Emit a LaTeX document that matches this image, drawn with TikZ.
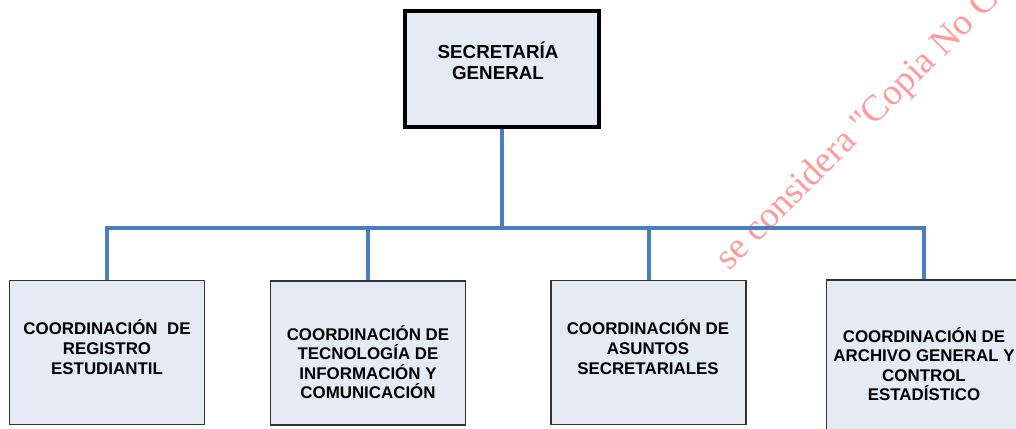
\documentclass[tikz,border=0pt]{standalone}
\usepackage{fontspec}
\setmainfont{Liberation Sans}
\newfontfamily\wmfont{Liberation Serif}
\definecolor{boxfill}{HTML}{E5EBF5}
\definecolor{connblue}{HTML}{4A7EC1}
\definecolor{wmred}{HTML}{FF9A9A}
\definecolor{bordergray}{HTML}{333333}
\begin{document}
\begin{tikzpicture}[x=1pt,y=-1pt,
  topbox/.style={draw=black,line width=4pt,fill=boxfill,minimum width=194pt,minimum height=116pt,inner sep=0pt},
  subbox/.style={draw=bordergray,line width=1.4pt,fill=boxfill,minimum width=195pt,minimum height=144pt,inner sep=0pt},
  toptext/.style={font=\bfseries\fontsize{18.8}{21.5}\selectfont,align=center,inner sep=0pt},
  subtext/.style={font=\bfseries\fontsize{16.9}{19.6}\selectfont,align=center,inner sep=0pt},
  conn/.style={draw=connblue,line width=4pt,line join=miter}]
\useasboundingbox (0,0) rectangle (1016,428);
\clip (0,0) rectangle (1016,428);
% watermark
\node[font=\wmfont\fontsize{37}{40}\selectfont,text=wmred,rotate=45,anchor=base west,inner sep=0pt] (wm) at (729,272) {se considera "Copia No Co};
% boxes
\node[topbox] (sg) at (502,69) {};
\node[toptext] (sgt) at (498,61) {SECRETARÍA\\GENERAL};
\node[subbox] (b1) at (107,352.5) {};
\node[subbox] (b2) at (368,353) {};
\node[subbox] (b3) at (648.5,352.5) {};
\node[subbox,minimum height=152pt] (b4) at (924,356) {};
\node[subtext] (t1) at (107,347) {COORDINACIÓN\ \ DE\\REGISTRO\\ESTUDIANTIL};
\node[subtext] (t2) at (368,362) {COORDINACIÓN DE\\TECNOLOGÍA DE\\INFORMACIÓN Y\\COMUNICACIÓN};
\node[subtext] (t3) at (648,347) {COORDINACIÓN DE\\ASUNTOS\\SECRETARIALES};
\node[subtext] (t4) at (924,364) {COORDINACIÓN DE\\ARCHIVO GENERAL Y\\CONTROL\\ESTADÍSTICO};
% connectors
\coordinate (j) at (502,228);
\draw[conn] (sg.south) -- (j);
\draw[conn] (j) -| (b1.north);
\draw[conn] (j) -| (b2.north);
\draw[conn] (j) -| (b3.north);
\draw[conn] (j) -| (b4.north);
\end{tikzpicture}
\end{document}
